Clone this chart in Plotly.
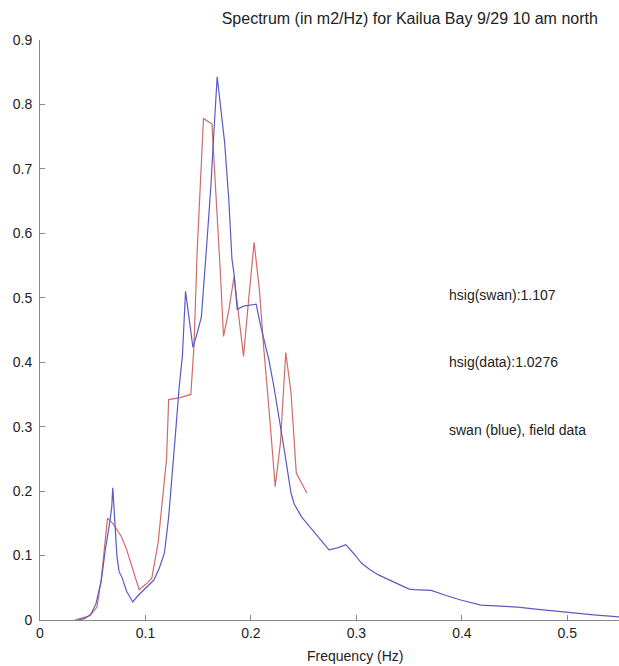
import plotly.graph_objects as go

# SWAN model spectrum (blue)
swan_f = [0.036, 0.042, 0.048, 0.053, 0.058, 0.062, 0.066, 0.068, 0.069, 0.071,
          0.073, 0.075, 0.078, 0.082, 0.088, 0.093, 0.099, 0.104, 0.108, 0.113,
          0.118, 0.122, 0.126, 0.129, 0.132, 0.135, 0.138, 0.141, 0.145, 0.149,
          0.153, 0.158, 0.162, 0.165, 0.168, 0.171, 0.175, 0.179, 0.182, 0.184,
          0.187, 0.193, 0.199, 0.205, 0.209, 0.213, 0.217, 0.222, 0.226, 0.232,
          0.238, 0.241, 0.248, 0.258, 0.266, 0.274, 0.282, 0.290, 0.297, 0.305,
          0.313, 0.321, 0.330, 0.340, 0.350, 0.355, 0.371, 0.385, 0.399, 0.418,
          0.435, 0.453, 0.470, 0.493, 0.510, 0.525, 0.549]
swan_s = [0.000, 0.002, 0.008, 0.025, 0.060, 0.110, 0.150, 0.175, 0.205, 0.150,
          0.098, 0.075, 0.065, 0.045, 0.028, 0.038, 0.047, 0.055, 0.062, 0.080,
          0.104, 0.160, 0.249, 0.300, 0.362, 0.409, 0.510, 0.471, 0.423, 0.445,
          0.470, 0.580, 0.673, 0.760, 0.843, 0.800, 0.742, 0.653, 0.560, 0.537,
          0.482, 0.487, 0.488, 0.490, 0.458, 0.430, 0.404, 0.360, 0.322, 0.260,
          0.197, 0.180, 0.160, 0.140, 0.124, 0.109, 0.112, 0.117, 0.104, 0.088,
          0.078, 0.070, 0.063, 0.056, 0.048, 0.047, 0.046, 0.038, 0.031, 0.023,
          0.022, 0.020, 0.017, 0.013, 0.011, 0.008, 0.005]

# Field data spectrum (red)
data_f = [0.033, 0.040, 0.046, 0.050, 0.054, 0.058, 0.061, 0.064, 0.069, 0.073,
          0.077, 0.082, 0.088, 0.094, 0.100, 0.106, 0.112, 0.118, 0.120, 0.122,
          0.133, 0.143, 0.146, 0.149, 0.153, 0.155, 0.163, 0.165, 0.168, 0.171,
          0.174, 0.179, 0.184, 0.189, 0.193, 0.198, 0.203, 0.208, 0.212, 0.218,
          0.223, 0.228, 0.233, 0.238, 0.243, 0.253]
data_s = [0.000, 0.003, 0.006, 0.012, 0.020, 0.062, 0.110, 0.158, 0.150, 0.140,
          0.130, 0.110, 0.080, 0.047, 0.055, 0.065, 0.120, 0.218, 0.250, 0.342,
          0.345, 0.350, 0.425, 0.571, 0.705, 0.778, 0.770, 0.715, 0.620, 0.540,
          0.440, 0.480, 0.533, 0.467, 0.409, 0.500, 0.586, 0.513, 0.425, 0.310,
          0.207, 0.275, 0.415, 0.353, 0.228, 0.197]

x_ticks = [0, 0.1, 0.2, 0.3, 0.4, 0.5]
x_tick_labels = ["0", "0.1", "0.2", "0.3", "0.4", "0.5"]
y_ticks = [0, 0.1, 0.2, 0.3, 0.4, 0.5, 0.6, 0.7, 0.8, 0.9]
y_tick_labels = ["0", "0.1", "0.2", "0.3", "0.4", "0.5", "0.6", "0.7", "0.8", "0.9"]

title_text = "Spectrum (in m2/Hz) for Kailua Bay 9/29 10 am north"
x_label = "Frequency (Hz)"
notes = ["hsig(swan):1.107", "hsig(data):1.0276", "swan (blue), field data"]
note_y = [0.505, 0.40, 0.295]

FONT = "Liberation Sans, Arial, Helvetica, sans-serif"
TXT = "#222222"

fig = go.Figure()
fig.add_trace(go.Scatter(x=data_f, y=data_s, mode="lines",
                         line=dict(color="#d06b6b", width=1.2), showlegend=False))
fig.add_trace(go.Scatter(x=swan_f, y=swan_s, mode="lines",
                         line=dict(color="#5a5ac6", width=1.2), showlegend=False))

for t, yv in zip(notes, note_y):
    fig.add_annotation(x=0.386, y=yv, xref="x", yref="y", text=t, showarrow=False,
                       xanchor="left", yanchor="middle",
                       font=dict(family=FONT, size=14, color=TXT))

fig.add_annotation(x=0.299, y=0, xref="x", yref="paper", text=x_label, showarrow=False,
                   xanchor="center", yanchor="top", yshift=-26,
                   font=dict(family=FONT, size=14, color=TXT))

fig.update_layout(
    width=619, height=666,
    margin=dict(l=40, r=0, t=40, b=46),
    paper_bgcolor="white", plot_bgcolor="white",
    title=dict(text=title_text, x=0.662, xanchor="center", y=0.973, yanchor="middle",
               xref="container", yref="container",
               font=dict(family=FONT, size=16, color=TXT)),
    font=dict(family=FONT, size=14, color=TXT),
)
fig.update_xaxes(range=[0, 0.549], tickvals=x_ticks, ticktext=x_tick_labels,
                 showgrid=False, zeroline=False, showline=True, linecolor="#888888",
                 linewidth=1, ticks="inside", ticklen=5, tickcolor="#888888",
                 tickfont=dict(family=FONT, size=14, color=TXT))
fig.update_yaxes(range=[0, 0.9], tickvals=y_ticks, ticktext=y_tick_labels,
                 showgrid=False, zeroline=False, showline=True, linecolor="#888888",
                 linewidth=1, ticks="inside", ticklen=5, tickcolor="#888888",
                 ticklabelstandoff=4,
                 tickfont=dict(family=FONT, size=14, color=TXT))

fig.write_html("out.html", config={"displayModeBar": False},
               post_script="document.body.style.margin='0';document.body.style.overflow='hidden';")
